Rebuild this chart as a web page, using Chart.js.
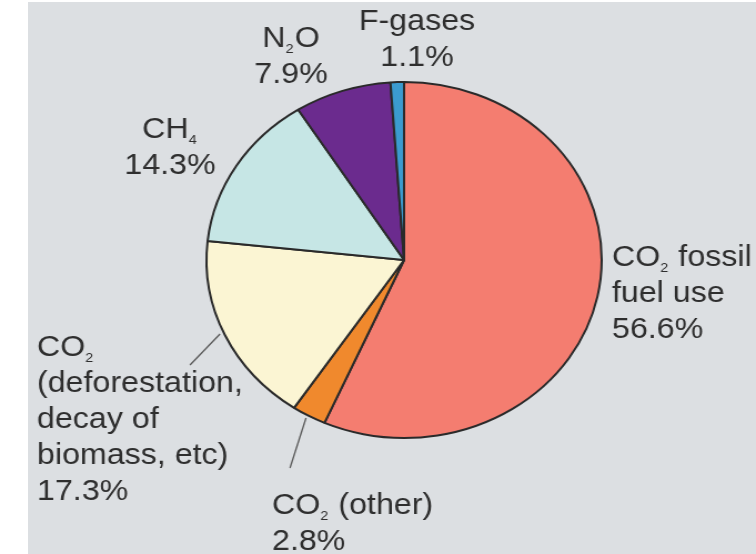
<!DOCTYPE html>
<html>
<head>
<meta charset="utf-8">
<script src="https://cdn.jsdelivr.net/npm/chart.js@4.4.1/dist/chart.umd.min.js"></script>
<style>
  html, body { margin: 0; padding: 0; background: #ffffff; }
  body { width: 756px; height: 554px; position: relative; overflow: hidden; }
  #panel { position: absolute; left: 28px; top: 2px; right: 0; bottom: 0; background: #dcdfe2; }
  /* the source picture is stretched sideways, so the whole chart is too */
  #wrap { position: absolute; left: 0; top: 0; width: 681px; height: 554px; transform: scaleX(1.1101); transform-origin: 0 0; }
</style>
</head>
<body>
<div id="panel"></div>
<div id="wrap"><canvas id="pie"></canvas></div>
<script>
const STRETCH = 756 / 681;

const categories = ['CO2 fossil fuel use', 'CO2 (other)', 'CO2 (deforestation, decay of biomass, etc)', 'CH4', 'N2O', 'F-gases'];
const shares = [56.6, 2.8, 17.3, 14.3, 7.9, 1.1];
const sliceColors = ['#f47d70', '#f0892d', '#fbf5d3', '#c6e6e5', '#6b2b8e', '#3b9bcf'];

// name lines for each label, "_x" marks a subscript character
const nameLines = [
    ['CO_2 fossil', 'fuel use'],
    ['CO_2 (other)'],
    ['CO_2', '(deforestation,', 'decay of', 'biomass, etc)'],
    ['CH_4'],
    ['N_2O'],
    ['F-gases']
];

// where each label sits (picture px): first baseline, alignment
const labelSpots = [
    { x: 612, y: 266, align: 'left' },
    { x: 272, y: 514, align: 'left' },
    { x: 37, y: 356, align: 'left' },
    { x: 170, y: 138, align: 'center' },
    { x: 291, y: 47, align: 'center' },
    { x: 417, y: 30, align: 'center' }
];

// leader lines (picture px)
const leaders = [
    [190, 365, 220, 334],
    [290, 468, 306, 418]
];

const MAIN_FONT = '29px "Liberation Sans", Arial, Helvetica, sans-serif';
const SUB_FONT = '13px "Liberation Sans", Arial, Helvetica, sans-serif';
const LINE_H = 36;

function splitSub(text) {
    const parts = [];
    let buf = '';
    for (let i = 0; i < text.length; i++) {
        if (text[i] === '_' && i + 1 < text.length) {
            if (buf) parts.push({ t: buf, sub: false });
            parts.push({ t: text[i + 1], sub: true });
            buf = '';
            i++;
        } else {
            buf += text[i];
        }
    }
    if (buf) parts.push({ t: buf, sub: false });
    return parts;
}

function drawRich(ctx, text, x, y, align) {
    const parts = splitSub(text);
    let total = 0;
    parts.forEach(p => {
        ctx.font = p.sub ? SUB_FONT : MAIN_FONT;
        p.w = ctx.measureText(p.t).width + (p.sub ? 1 : 0);
        total += p.w;
    });
    let cx = align === 'center' ? x - total / 2 : x;
    parts.forEach(p => {
        ctx.font = p.sub ? SUB_FONT : MAIN_FONT;
        ctx.fillText(p.t, cx, p.sub ? y + 6 : y);
        cx += p.w;
    });
}

const labelPlugin = {
    id: 'sliceLabels',
    afterDraw(chart) {
        const ctx = chart.ctx;
        ctx.save();
        ctx.textAlign = 'left';
        ctx.textBaseline = 'alphabetic';
        ctx.fillStyle = '#2e2e2e';

        nameLines.forEach((lines, i) => {
            const spot = labelSpots[i];
            const all = lines.concat([shares[i].toFixed(1) + '%']);
            all.forEach((line, j) => {
                drawRich(ctx, line, spot.x / STRETCH, spot.y + j * LINE_H, spot.align);
            });
        });

        ctx.strokeStyle = '#5a5a5a';
        ctx.lineWidth = 1.3;
        leaders.forEach(l => {
            ctx.beginPath();
            ctx.moveTo(l[0] / STRETCH, l[1]);
            ctx.lineTo(l[2] / STRETCH, l[3]);
            ctx.stroke();
        });
        ctx.restore();
    }
};

new Chart(document.getElementById('pie'), {
    type: 'pie',
    data: {
        labels: categories,
        datasets: [{
            data: shares,
            backgroundColor: sliceColors,
            borderColor: '#2a2a2a',
            borderWidth: 2
        }]
    },
    options: {
        responsive: true,
        maintainAspectRatio: false,
        animation: false,
        layout: { padding: { left: 185, right: 138, top: 81, bottom: 115 } },
        plugins: {
            legend: { display: false },
            tooltip: { enabled: false }
        }
    },
    plugins: [labelPlugin]
});
</script>
</body>
</html>
